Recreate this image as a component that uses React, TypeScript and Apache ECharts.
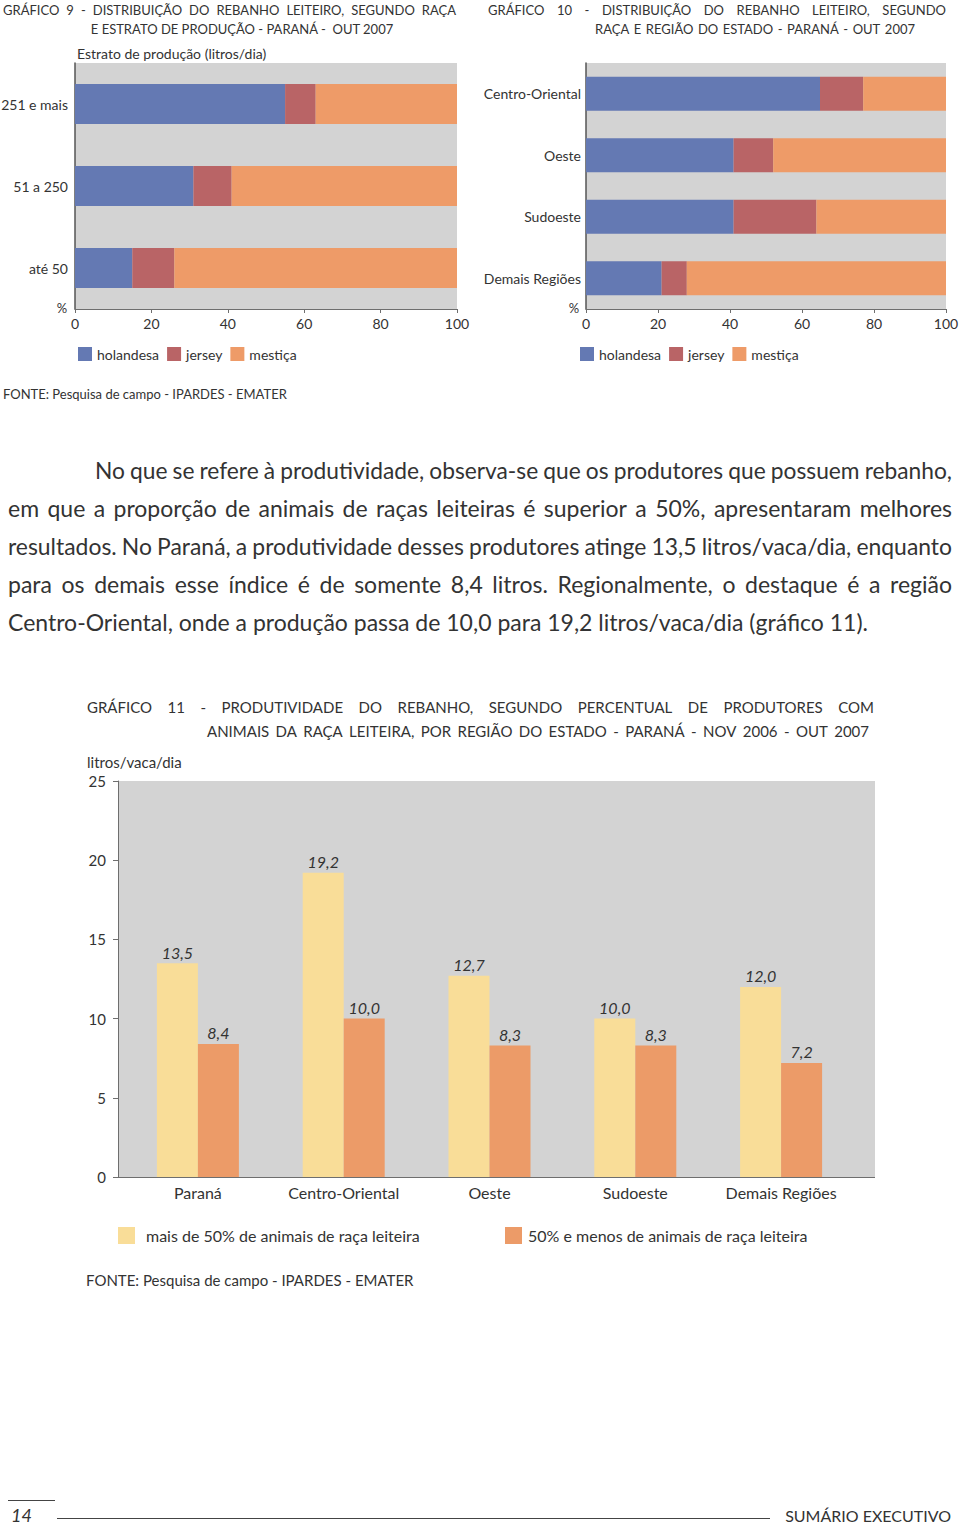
import React, { useEffect, useRef } from "react";
import * as echarts from "echarts";

const FONT = 'Lato, "Open Sans", "DejaVu Sans", sans-serif';
const TXT = "#333333";
const GRAY = "#d3d3d3";
const AXIS = "#6e6e6e";
const C_HOL = "#6479b3";
const C_JER = "#b96466";
const C_MES = "#ee9b68";
const C_LIGHT = "#f9dd98";
const C_DARK = "#ec9b68";

// Gráfico 9 – estrato de produção (%)
const strata = ["251 e mais", "51 a 250", "até 50"];
const strataHolandesa = [55, 31, 15];
const strataJersey = [8, 10, 11];
const strataMestica = [37, 59, 74];

// Gráfico 10 – região (%)
const regions10 = ["Centro-Oriental", "Oeste", "Sudoeste", "Demais Regiões"];
const regHolandesa = [65, 41, 41, 21];
const regJersey = [12, 11, 23, 7];
const regMestica = [23, 48, 36, 72];

// Gráfico 11 – litros/vaca/dia
const regions11 = ["Paraná", "Centro-Oriental", "Oeste", "Sudoeste", "Demais Regiões"];
const maisDe50 = [13.5, 19.2, 12.7, 10.0, 12.0];
const menosDe50 = [8.4, 10.0, 8.3, 8.3, 7.2];
const NAME_MAIS = "mais de 50% de animais de raça leiteira";
const NAME_MENOS = "50% e menos de animais de raça leiteira";

const paragraph = [
  "No que se refere à produtividade, observa-se que os produtores que possuem rebanho,",
  "em que a proporção de animais de raças leiteiras é superior a 50%, apresentaram melhores",
  "resultados. No Paraná, a produtividade desses produtores atinge 13,5 litros/vaca/dia, enquanto",
  "para os demais esse índice é de somente 8,4 litros. Regionalmente, o destaque é a região",
  "Centro-Oriental, onde a produção passa de 10,0 para 19,2 litros/vaca/dia (gráfico 11).",
];

let measureCtx: CanvasRenderingContext2D | null = null;
function textWidth(text: string, size: number, style = "normal"): number {
  if (!measureCtx) measureCtx = document.createElement("canvas").getContext("2d");
  measureCtx!.font = `${style} ${size}px ${FONT}`;
  return measureCtx!.measureText(text).width;
}

function txt(text: string, x: number, y: number, size: number, extra: any = {}) {
  const align = extra.align || "left";
  return {
    type: "text",
    x,
    y,
    silent: true,
    style: {
      text,
      fontSize: size,
      fontFamily: FONT,
      fontStyle: extra.italic ? "italic" : "normal",
      fill: extra.fill || TXT,
      textAlign: align,
      align,
      textVerticalAlign: "middle",
      verticalAlign: "middle",
    },
  };
}

function justified(text: string, x0: number, x1: number, y: number, size: number) {
  const words = text.split(" ").filter((w) => w.length > 0);
  const n = words.length;
  let s = size;
  let widths = words.map((w) => textWidth(w, s));
  let total = widths.reduce((a, b) => a + b, 0);
  const avail = x1 - x0;
  const minGap = 0.22 * s;
  if (total + minGap * (n - 1) > avail) {
    s = (s * (avail - minGap * (n - 1))) / total;
    widths = words.map((w) => textWidth(w, s));
    total = widths.reduce((a, b) => a + b, 0);
  }
  const gap = n > 1 ? (avail - total) / (n - 1) : 0;
  const els: any[] = [];
  let x = x0;
  words.forEach((w, i) => {
    els.push(txt(w, x, y, s));
    x += widths[i] + gap;
  });
  return els;
}

function fmt(v: number) {
  return v.toFixed(1).replace(".", ",");
}

function buildOption() {
  const graphic: any[] = [];
  // Gráfico 9 titles
  graphic.push(...justified("GRÁFICO 9 - DISTRIBUIÇÃO DO REBANHO LEITEIRO, SEGUNDO RAÇA", 3, 456, 10, 13));
  graphic.push(txt("E ESTRATO DE PRODUÇÃO - PARANÁ -  OUT 2007", 242, 29, 13, { align: "center" }));
  graphic.push(txt("Estrato de produção (litros/dia)", 77, 53, 14));
  graphic.push(txt("%", 62, 308, 13, { align: "center" }));
  // Gráfico 10 titles
  graphic.push(...justified("GRÁFICO 10 - DISTRIBUIÇÃO DO REBANHO LEITEIRO, SEGUNDO", 488, 946, 10, 13));
  graphic.push(...justified("RAÇA E REGIÃO DO ESTADO - PARANÁ - OUT 2007", 595, 915, 29, 13));
  graphic.push(txt("%", 574, 308, 13, { align: "center" }));
  graphic.push(txt("FONTE: Pesquisa de campo - IPARDES - EMATER", 3, 394, 13));

  // Paragraph
  const lineYs = [470, 508, 546, 584, 622];
  paragraph.forEach((line, i) => {
    if (i === 0) graphic.push(...justified(line, 95, 952, lineYs[i], 23));
    else if (i < paragraph.length - 1) graphic.push(...justified(line, 8, 952, lineYs[i], 23));
    else graphic.push(txt(line, 8, lineYs[i], 23));
  });

  // Gráfico 11 titles
  graphic.push(
    ...justified("GRÁFICO 11 - PRODUTIVIDADE DO REBANHO, SEGUNDO PERCENTUAL DE PRODUTORES COM", 87, 874, 707, 15)
  );
  graphic.push(
    ...justified("ANIMAIS DA RAÇA LEITEIRA, POR REGIÃO DO ESTADO - PARANÁ - NOV 2006 - OUT 2007", 207, 869, 731, 15)
  );
  graphic.push(txt("litros/vaca/dia", 87, 762, 15));
  graphic.push({
    type: "rect",
    z: -1,
    silent: true,
    shape: { x: 118, y: 781, width: 757, height: 396 },
    style: { fill: GRAY },
  });
  graphic.push({
    type: "line",
    silent: true,
    shape: { x1: 118, y1: 1177.5, x2: 875, y2: 1177.5 },
    style: { stroke: AXIS, lineWidth: 1 },
  });
  graphic.push(txt("FONTE: Pesquisa de campo - IPARDES - EMATER", 86, 1280, 15));

  // Footer
  graphic.push({
    type: "line",
    silent: true,
    shape: { x1: 8, y1: 1500.5, x2: 55, y2: 1500.5 },
    style: { stroke: "#444", lineWidth: 1 },
  });
  graphic.push({
    type: "line",
    silent: true,
    shape: { x1: 57, y1: 1518.5, x2: 770, y2: 1518.5 },
    style: { stroke: "#444", lineWidth: 1 },
  });
  graphic.push(txt("14", 11, 1515, 18, { italic: true }));
  graphic.push(txt("SUMÁRIO EXECUTIVO", 951, 1515, 16, { align: "right" }));

  const catAxis = (gridIndex: number, data: string[], margin: number) => ({
    type: "category",
    gridIndex,
    data,
    inverse: true,
    axisLine: { show: true, lineStyle: { color: "#555", width: 1.5 } },
    axisTick: { show: false },
    axisLabel: { fontSize: 14, color: TXT, fontFamily: FONT, margin },
    splitLine: { show: false },
  });
  const pctAxis = (gridIndex: number) => ({
    type: "value",
    gridIndex,
    min: 0,
    max: 100,
    interval: 20,
    axisLine: { show: true, lineStyle: { color: AXIS } },
    axisTick: { show: true, length: 4, lineStyle: { color: AXIS } },
    axisLabel: { fontSize: 14, color: TXT, fontFamily: FONT, margin: 7 },
    splitLine: { show: false },
  });

  const stackSeries = (
    idx: number,
    stack: string,
    width: number,
    hol: number[],
    jer: number[],
    mes: number[]
  ) => [
    { name: "holandesa", data: hol, color: C_HOL },
    { name: "jersey", data: jer, color: C_JER },
    { name: "mestiça", data: mes, color: C_MES },
  ].map((s) => ({
    type: "bar",
    name: s.name,
    stack,
    xAxisIndex: idx,
    yAxisIndex: idx,
    data: s.data,
    barWidth: width,
    itemStyle: { color: s.color },
    silent: true,
  }));

  const legendBase = {
    orient: "horizontal",
    icon: "rect",
    selectedMode: false,
    padding: 0,
    itemWidth: 14,
    itemHeight: 14,
    itemGap: 8,
    textStyle: { fontSize: 14, color: TXT, fontFamily: FONT },
  };

  return {
    animation: false,
    textStyle: { fontFamily: FONT },
    grid: [
      {
        left: 75,
        top: 63,
        width: 382,
        height: 246,
        show: true,
        backgroundColor: GRAY,
        borderWidth: 0,
        outerBoundsMode: "none",
        containLabel: false,
      },
      {
        left: 586,
        top: 63,
        width: 360,
        height: 246,
        show: true,
        backgroundColor: GRAY,
        borderWidth: 0,
        outerBoundsMode: "none",
        containLabel: false,
      },
      { left: 125, top: 781, width: 729, height: 396, outerBoundsMode: "none", containLabel: false },
    ],
    xAxis: [
      pctAxis(0),
      pctAxis(1),
      {
        type: "category",
        gridIndex: 2,
        data: regions11,
        axisLine: { show: false },
        axisTick: { show: false },
        axisLabel: { fontSize: 16, color: TXT, fontFamily: FONT, margin: 7 },
      },
    ],
    yAxis: [
      catAxis(0, strata, 7),
      catAxis(1, regions10, 5),
      {
        type: "value",
        gridIndex: 2,
        min: 0,
        max: 25,
        interval: 5,
        offset: 7,
        axisLine: { show: true, lineStyle: { color: AXIS } },
        axisTick: { show: true, length: 5, lineStyle: { color: AXIS } },
        axisLabel: { fontSize: 15, color: TXT, fontFamily: FONT, margin: 12 },
        splitLine: { show: false },
      },
    ],
    legend: [
      { ...legendBase, data: ["holandesa", "jersey", "mestiça"], left: 78, top: 347 },
      { ...legendBase, data: ["holandesa", "jersey", "mestiça"], left: 580, top: 347 },
      {
        ...legendBase,
        data: [NAME_MAIS],
        left: 118,
        top: 1227,
        itemWidth: 17,
        itemHeight: 17,
        textStyle: { fontSize: 16, color: TXT, fontFamily: FONT, padding: [0, 0, 0, 6] },
      },
      {
        ...legendBase,
        data: [NAME_MENOS],
        left: 505,
        top: 1227,
        itemWidth: 17,
        itemHeight: 17,
        textStyle: { fontSize: 16, color: TXT, fontFamily: FONT, padding: [0, 0, 0, 1] },
      },
    ],
    series: [
      ...stackSeries(0, "g9", 40, strataHolandesa, strataJersey, strataMestica),
      ...stackSeries(1, "g10", 34, regHolandesa, regJersey, regMestica),
      {
        type: "bar",
        name: NAME_MAIS,
        xAxisIndex: 2,
        yAxisIndex: 2,
        data: maisDe50,
        barWidth: 41,
        barGap: "0%",
        itemStyle: { color: C_LIGHT },
        silent: true,
        label: {
          show: true,
          position: "top",
          distance: 3,
          fontSize: 16,
          fontStyle: "italic",
          color: TXT,
          fontFamily: FONT,
          formatter: (p: any) => fmt(p.value),
        },
      },
      {
        type: "bar",
        name: NAME_MENOS,
        xAxisIndex: 2,
        yAxisIndex: 2,
        data: menosDe50,
        barWidth: 41,
        barGap: "0%",
        itemStyle: { color: C_DARK },
        silent: true,
        label: {
          show: true,
          position: "top",
          distance: 3,
          fontSize: 16,
          fontStyle: "italic",
          color: TXT,
          fontFamily: FONT,
          formatter: (p: any) => fmt(p.value),
        },
      },
    ],
    graphic: { elements: graphic },
  };
}

export default function App() {
  const ref = useRef<HTMLDivElement>(null);
  useEffect(() => {
    if (!ref.current) return;
    const chart = echarts.init(ref.current, undefined, { renderer: "svg" });
    chart.setOption(buildOption() as any);
    return () => chart.dispose();
  }, []);
  return (
    <div
      ref={ref}
      style={{ position: "absolute", left: 0, top: 0, width: 960, height: 1527, background: "#ffffff" }}
    />
  );
}
